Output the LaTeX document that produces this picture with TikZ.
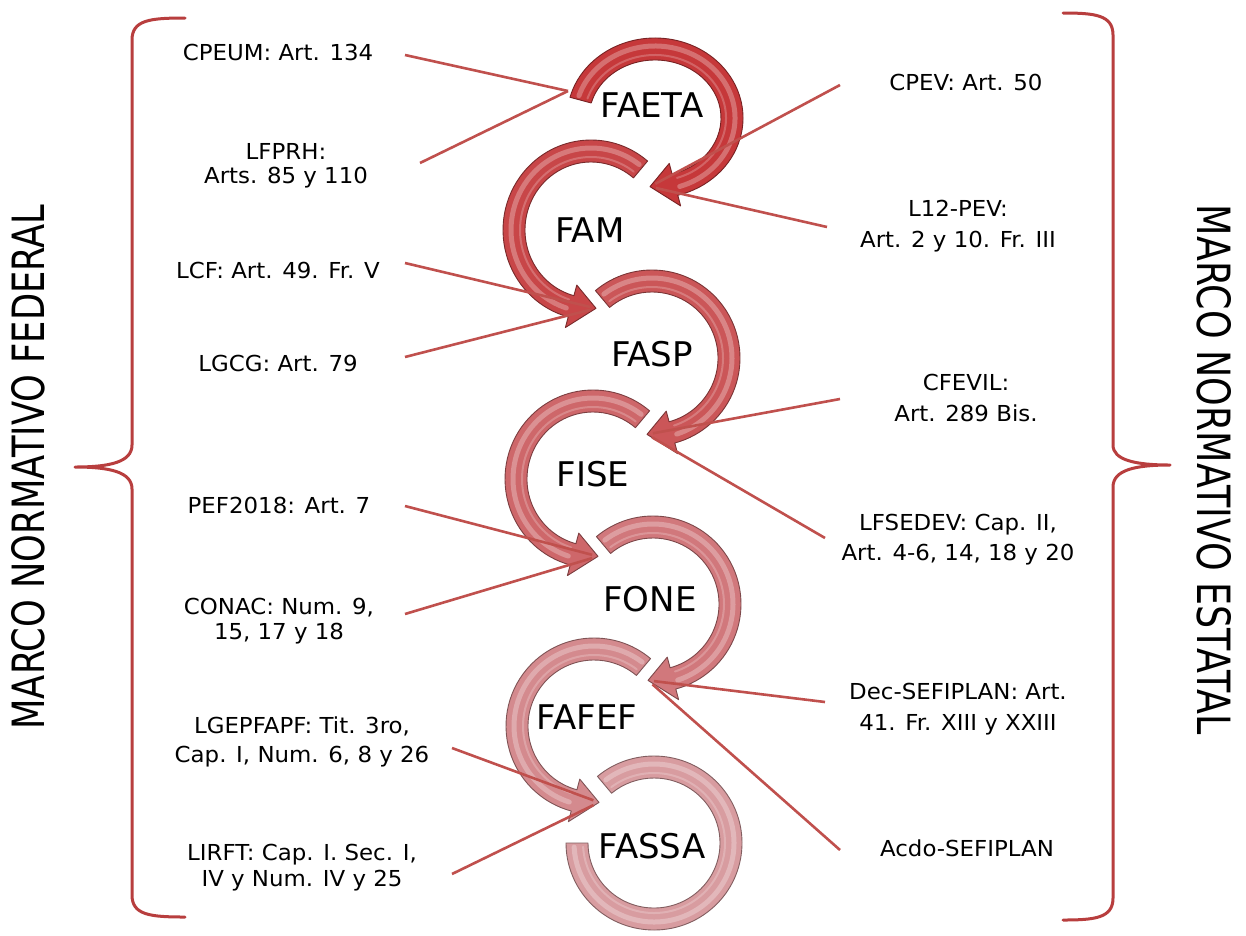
\documentclass[tikz,border=0pt]{standalone}
\usepackage{fontspec}
\usepackage{graphicx}
\newfontfamily\labfont[FakeStretch=1.04]{DejaVu Sans}
\newfontfamily\bigfont{DejaVu Sans}
\definecolor{r1}{RGB}{198,56,58}
\definecolor{r2}{RGB}{200,70,72}
\definecolor{r3}{RGB}{203,86,88}
\definecolor{r4}{RGB}{206,103,106}
\definecolor{r5}{RGB}{209,120,124}
\definecolor{r6}{RGB}{212,138,142}
\definecolor{r7}{RGB}{216,156,160}
\definecolor{lin}{RGB}{192,80,77}
\definecolor{bracecol}{RGB}{184,62,62}
\tikzset{
  lab/.style={font={\labfont\fontsize{22}{25}\selectfont}, align=center, text=black, inner sep=0pt},
  labw/.style={lab, font={\labfont\fontsize{22}{31}\selectfont}},
  ringlab/.style={font={\bigfont\fontsize{34}{40}\selectfont}, text=black, inner sep=0pt},
  conn/.style={draw=lin, line width=2.6pt, shorten >=6pt},
  bracepath/.style={draw=bracecol, line width=3pt, line cap=round, line join=round},
  ringbody/.style={line width=0.9pt, line join=round},
  hl/.style={draw=white, draw opacity=0.28, line width=5pt, line cap=round},
  hlb/.style={draw=white, draw opacity=0.22, line width=2pt, line cap=round},
  sidelab/.style={inner sep=0pt, text=black}
}
\newcommand\ringarrow[7]{%
\begin{scope}[shift={(#2,#3)},x=1pt,y=1pt,xscale=#4]
\pgfmathsetmacro\Ro{#5}
\pgfmathsetmacro\Ri{#5-22}
\pgfmathsetmacro\Rw{#5+11}
\pgfmathsetmacro\Rv{#5-33}
\pgfmathsetmacro\Rm{#5-8}
\pgfmathsetmacro\Rn{#5-17}
\pgfmathsetmacro\Sa{#6-3}
\pgfmathsetmacro\Ty{-((#5-11)*0.966+2)}
\filldraw[ringbody,fill=#7,draw=#7!60!black] (#6:88 and \Ro) arc[start angle=#6,end angle=-75,x radius=88,y radius=\Ro] -- (-75:99 and \Rw) -- (-5,\Ty) -- (-75:55 and \Rv) -- (-75:66 and \Ri) arc[start angle=-75,end angle=#6,x radius=66,y radius=\Ri] -- cycle;
\draw[hl] (\Sa:80 and \Rm) arc[start angle=\Sa,end angle=-72,x radius=80,y radius=\Rm];
\draw[hlb] (\Sa:71 and \Rn) arc[start angle=\Sa,end angle=-72,x radius=71,y radius=\Rn];
\coordinate (#1tip) at (-5,\Ty);
\end{scope}}
\begin{document}
\begin{tikzpicture}[x=1pt,y=-1pt]
\useasboundingbox (0,0) rectangle (1246,935);
\fill[white] (0,0) rectangle (1246,935);

% braces
\draw[bracepath] (185,18) .. controls (150,18) and (132,20) .. (132,40) -- (132,445)
  .. controls (132,462) and (110,467) .. (75,467)
  .. controls (110,467) and (132,472) .. (132,489) -- (132,895)
  .. controls (132,915) and (150,917) .. (185,917);
\draw[bracepath] (1063,13) .. controls (1095,13) and (1113,15) .. (1113,35) -- (1113,445)
  .. controls (1113,460) and (1135,465) .. (1170,465)
  .. controls (1135,465) and (1113,470) .. (1113,487) -- (1113,898)
  .. controls (1113,918) and (1095,920) .. (1063,920);

% side titles
\node[sidelab, rotate=90] (fed) at (28,467) {\resizebox{525pt}{33pt}{\bigfont MARCO NORMATIVO FEDERAL}};
\node[sidelab, rotate=-90] (est) at (1214,470) {\resizebox{530pt}{34pt}{\bigfont MARCO NORMATIVO ESTATAL}};

% rings
\ringarrow{faeta}{655}{118}{1}{80}{165}{r1}
\ringarrow{fam}{591}{230}{-1}{90}{130}{r2}
\ringarrow{fasp}{652}{358}{1}{88}{130}{r3}
\ringarrow{fise}{593}{479}{-1}{89}{130}{r4}
\ringarrow{fone}{653}{604}{1}{88}{130}{r5}
\ringarrow{fafef}{594}{726}{-1}{88}{130}{r6}
\begin{scope}[shift={(654,843)},x=1pt,y=1pt]
\filldraw[ringbody,fill=r7,draw=r7!60!black] (130:88 and 87) arc[start angle=130,end angle=-180,x radius=88,y radius=87] -- (-180:66 and 65) arc[start angle=-180,end angle=130,x radius=66,y radius=65] -- cycle;
\draw[hl] (127:80 and 79) arc[start angle=127,end angle=-177,x radius=80,y radius=79];
\draw[hlb] (127:71 and 70) arc[start angle=127,end angle=-177,x radius=71,y radius=70];
\end{scope}

% ring labels
\node[ringlab] (FAETA) at (652,105) {FAETA};
\node[ringlab] (FAM) at (590,230) {FAM};
\node[ringlab] (FASP) at (652,354) {FASP};
\node[ringlab] (FISE) at (593,474) {FISE};
\node[ringlab] (FONE) at (650,599) {FONE};
\node[ringlab] (FAFEF) at (587,717) {FAFEF};
\node[ringlab] (FASSA) at (652,846) {FASSA};

% left labels
\node[lab] (cpeum) at (278,52) {CPEUM: Art. 134};
\node[lab, font={\labfont\fontsize{22}{24}\selectfont}] (lfprh) at (286,166) {LFPRH:\\Arts. 85 y 110};
\node[lab] (lcf) at (278,270) {LCF: Art. 49. Fr. V};
\node[lab] (lgcg) at (278,363) {LGCG: Art. 79};
\node[lab] (pef) at (279,505) {PEF2018: Art. 7};
\node[lab] (conac) at (279,621) {CONAC: Num. 9,\\15, 17 y 18};
\node[lab, font={\labfont\fontsize{22}{29}\selectfont}] (lgep) at (302,742) {LGEPFAPF: Tit. 3ro,\\Cap. I, Num. 6, 8 y 26};
\node[lab, font={\labfont\fontsize{22}{26}\selectfont}] (lirft) at (302,868) {LIRFT: Cap. I. Sec. I,\\IV y Num. IV y 25};

% right labels
\node[lab] (cpev) at (966,82) {CPEV: Art. 50};
\node[labw] (l12) at (958,226) {L12-PEV:\\Art. 2 y 10. Fr. III};
\node[labw] (cfevil) at (966,398) {CFEVIL:\\Art. 289 Bis.};
\node[labw, font={\labfont\fontsize{22}{30}\selectfont}] (lfsedev) at (958,540) {LFSEDEV: Cap. II,\\Art. 4-6, 14, 18 y 20};
\node[labw] (dec) at (958,709) {Dec-SEFIPLAN: Art.\\41. Fr. XIII y XXIII};
\node[lab] (acdo) at (967,848) {Acdo-SEFIPLAN};

% connector end points
\coordinate (faetaS) at (568,91);
\coordinate (cpeumE) at (405,55);
\coordinate (lfprhE) at (420,163);
\coordinate (lcfE) at (405,263);
\coordinate (lgcgE) at (405,357);
\coordinate (pefE) at (405,506);
\coordinate (conacE) at (405,614);
\coordinate (lgepE) at (452,748);
\coordinate (lirftE) at (452,874);
\coordinate (cpevE) at (840,85);
\coordinate (l12E) at (827,227);
\coordinate (cfevilE) at (840,399);
\coordinate (lfsedevE) at (825,538);
\coordinate (decE) at (825,702);
\coordinate (acdoE) at (840,850);

% connectors
\draw[conn, shorten >=0pt] (cpeumE) -- (faetaS);
\draw[conn, shorten >=0pt] (lfprhE) -- (faetaS);
\draw[conn] (lcfE) -- (famtip);
\draw[conn] (lgcgE) -- (famtip);
\draw[conn] (pefE) -- (fisetip);
\draw[conn] (conacE) -- (fisetip);
\draw[conn] (lgepE) -- (fafeftip);
\draw[conn] (lirftE) -- (fafeftip);
\draw[conn] (cpevE) -- (faetatip);
\draw[conn] (l12E) -- (faetatip);
\draw[conn] (cfevilE) -- (fasptip);
\draw[conn] (lfsedevE) -- (fasptip);
\draw[conn] (decE) -- (fonetip);
\draw[conn] (acdoE) -- (fonetip);
\end{tikzpicture}
\end{document}
